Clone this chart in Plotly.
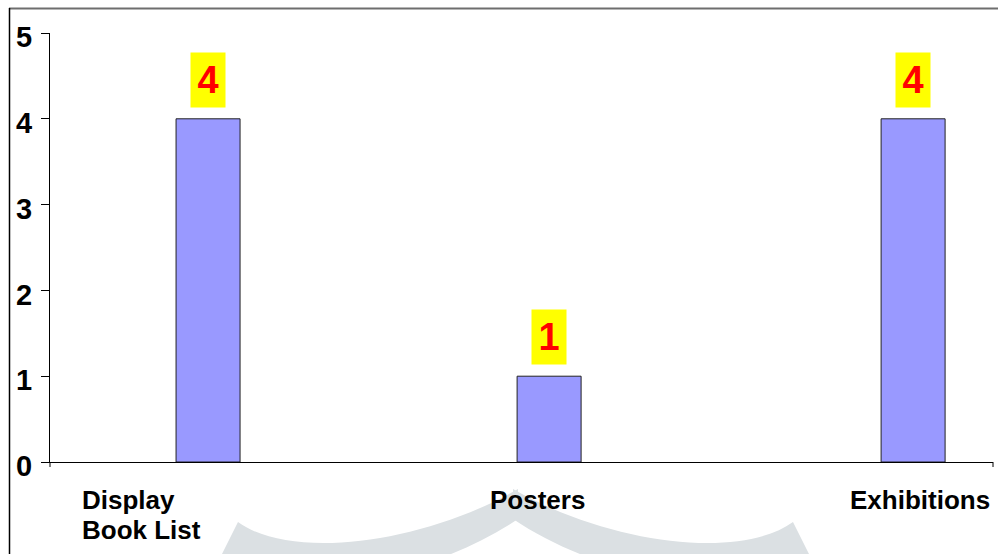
import plotly.graph_objects as go

# ---- data ----
categories = ["Display Book List", "Posters", "Exhibitions"]
category_labels = ["Display<br>Book List", "Posters", "Exhibitions"]
values = [4, 1, 4]
y_ticks = [0, 1, 2, 3, 4, 5]

# ---- layout geometry (pixels) ----
W, H = 998, 554
M_L, M_R, M_T, M_B = 50, 5, 33, 92
PW, PH = W - M_L - M_R, H - M_T - M_B

BAR_WIDTH = 0.2036
BAR_OFFSETS = [-0.099, -0.014, 0.144]          # left edge relative to category centre
LABEL_SHIFTS = [(-127, "left"), (16, "center"), (156, "right")]
LINE_STEP = 30

FONT = "Liberation Sans, Arial, sans-serif"


def px_x(x):
    return (x - M_L) / PW


def px_y(y):
    return (M_T + PH - y) / PH


fig = go.Figure()
fig.add_trace(go.Bar(
    x=categories,
    y=values,
    width=[BAR_WIDTH] * len(values),
    offset=BAR_OFFSETS,
    marker=dict(color="#9999FF", line=dict(color="#222222", width=1)),
    hoverinfo="x+y",
))

annotations = []
# value labels on yellow boxes above each bar
for i, v in enumerate(values):
    annotations.append(dict(
        x=i + BAR_OFFSETS[i] + BAR_WIDTH / 2, y=v, xref="x", yref="y",
        text=str(v), showarrow=False, yanchor="bottom", yshift=11,
        bgcolor="#FFFF00", width=32, height=52,
        font=dict(family=FONT, size=38, color="#FF0000", weight="bold"),
    ))
# category labels below the axis, one line at a time for tight line spacing
for i, lab in enumerate(category_labels):
    shift, anchor = LABEL_SHIFTS[i]
    for k, line in enumerate(lab.split("<br>")):
        annotations.append(dict(
            x=categories[i], y=0, xref="x", yref="paper",
            text=line, showarrow=False, xanchor=anchor, yanchor="top",
            xshift=shift, yshift=-21 - LINE_STEP * k, align="left",
            font=dict(family=FONT, size=26, color="#000000", weight="bold"),
        ))


# faint arc ribbon in the background
def arc_path(mirror=False):
    def P(x, y):
        if mirror:
            x = 1031 - x
        return f"{px_x(x):.5f},{px_y(y):.5f}"
    return (f"M {P(238,522)} C {P(290,560)} {P(420,545)} {P(518,489)} "
            f"L {P(518,519)} C {P(430,578)} {P(300,600)} {P(215,580)} "
            f"L {P(222,554)} Z")


shapes = [
    dict(type="path", path=arc_path(False), xref="paper", yref="paper",
         fillcolor="#DBE0E3", line=dict(width=0), layer="below"),
    dict(type="path", path=arc_path(True), xref="paper", yref="paper",
         fillcolor="#DBE0E3", line=dict(width=0), layer="below"),
    # outer frame (top and left edges)
    dict(type="line", xref="paper", yref="paper",
         x0=px_x(9), x1=px_x(998), y0=px_y(8.5), y1=px_y(8.5),
         line=dict(color="#6E6E6E", width=2)),
    dict(type="line", xref="paper", yref="paper",
         x0=px_x(9.5), x1=px_x(9.5), y0=px_y(8), y1=px_y(560),
         line=dict(color="#000000", width=1.5)),
    # end ticks of the category axis
    dict(type="line", xref="paper", yref="paper",
         x0=px_x(993), x1=px_x(993), y0=0, y1=px_y(467),
         line=dict(color="#000000", width=1)),
    dict(type="line", xref="paper", yref="paper",
         x0=0, x1=0, y0=0, y1=px_y(467),
         line=dict(color="#000000", width=1)),
]

fig.update_layout(
    width=W, height=H,
    margin=dict(l=M_L, r=M_R, t=M_T, b=M_B, autoexpand=False),
    paper_bgcolor="#FFFFFF", plot_bgcolor="#FFFFFF",
    showlegend=False,
    annotations=annotations,
    shapes=shapes,
    xaxis=dict(
        type="category", range=[-0.5, 2.5], showticklabels=False,
        ticks="", showgrid=False, zeroline=False,
        showline=True, linecolor="#000000", linewidth=1,
    ),
    yaxis=dict(
        range=[0, 5], tickvals=y_ticks, ticks="outside", ticklen=8,
        tickcolor="#000000", tickwidth=1, showgrid=False, zeroline=False,
        showline=True, linecolor="#000000", linewidth=1,
        ticklabelstandoff=3, ticklabelshift=4,
        tickfont=dict(family=FONT, size=29, color="#000000", weight="bold"),
    ),
)

fig.write_html("out.html")
